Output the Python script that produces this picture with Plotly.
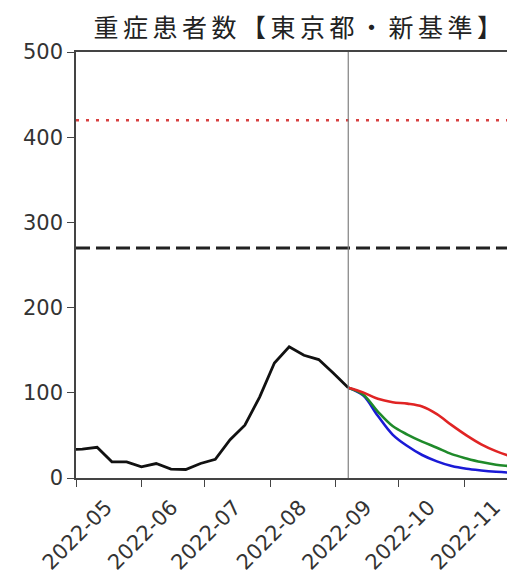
import plotly.graph_objects as go

# Observed weekly severe cases (Tokyo, new criteria)
obs_dates = ["2022-04-27", "2022-05-04", "2022-05-11", "2022-05-18", "2022-05-25",
             "2022-06-01", "2022-06-08", "2022-06-15", "2022-06-22", "2022-06-29",
             "2022-07-06", "2022-07-13", "2022-07-20", "2022-07-27", "2022-08-03",
             "2022-08-10", "2022-08-17", "2022-08-24", "2022-08-31", "2022-09-07"]
obs_values = [33, 34, 36, 19, 19, 13, 17, 10.5, 10, 17,
              22, 45, 62, 95, 135, 154, 144, 139, 123, 106]

# Projections from 2022-09-07
proj_dates = ["2022-09-07", "2022-09-14", "2022-09-21", "2022-09-28", "2022-10-05",
              "2022-10-12", "2022-10-19", "2022-10-26", "2022-11-02", "2022-11-09",
              "2022-11-16", "2022-11-23", "2022-11-30"]
proj_red = [106, 100.5, 93, 89, 87.3, 84, 75, 62, 50, 39.5, 31.5, 25.5, 21]
proj_green = [106, 98, 78, 61, 51, 42.7, 35.5, 28, 23, 18.7, 15.5, 13.8, 12]
proj_blue = [106, 97, 73, 51, 37.5, 27, 19.5, 14, 10.8, 8.8, 7.3, 6.3, 5.8]

ref_dashed = 270
ref_dotted = 420
split_date = "2022-09-07"
x_range = ["2022-05-01", "2022-11-25"]
tick_vals = ["2022-05-01", "2022-06-01", "2022-07-01", "2022-08-01",
             "2022-09-01", "2022-10-01", "2022-11-01"]
tick_text = ["2022-05", "2022-06", "2022-07", "2022-08", "2022-09", "2022-10", "2022-11"]
y_ticks = [0, 100, 200, 300, 400, 500]
title_text = "重症患者数【東京都・新基準】"

fig = go.Figure()

fig.add_trace(go.Scatter(x=proj_dates, y=proj_blue, mode="lines",
                         line=dict(color="#1a1ad6", width=2.6, shape="spline")))
fig.add_trace(go.Scatter(x=proj_dates, y=proj_green, mode="lines",
                         line=dict(color="#1f8a2a", width=2.6, shape="spline")))
fig.add_trace(go.Scatter(x=proj_dates, y=proj_red, mode="lines",
                         line=dict(color="#e02424", width=2.6, shape="spline")))
fig.add_trace(go.Scatter(x=obs_dates, y=obs_values, mode="lines",
                         line=dict(color="#111111", width=2.8)))

fig.add_hline(y=ref_dashed, line=dict(color="#222222", width=3, dash="14px,6px"))
fig.add_hline(y=ref_dotted, line=dict(color="#d84040", width=2.5, dash="3px,7px"))
fig.add_vline(x=split_date, line=dict(color="#808080", width=1.2))

fig.update_layout(
    width=507, height=577,
    margin=dict(l=68, r=0, t=44, b=107),
    paper_bgcolor="white", plot_bgcolor="white",
    showlegend=False,
    title=dict(text='<span style="letter-spacing:4.5px">' + title_text + '</span>',
               x=0.576, xanchor="center", y=0.965, yanchor="middle",
               font=dict(family="Noto Sans CJK JP", size=25, color="#222222")),
    font=dict(family="DejaVu Sans", size=21, color="#333333"),
)
fig.update_xaxes(range=x_range, tickvals=tick_vals, ticktext=tick_text,
                 tickangle=-45, ticks="outside", ticklen=7, tickcolor="#444444",
                 showline=True, linecolor="#444444", linewidth=1.5, mirror=True,
                 showgrid=False, zeroline=False, ticklabelshift=30)
fig.update_yaxes(range=[0, 500], tickvals=y_ticks,
                 ticks="outside", ticklen=7, tickcolor="#444444",
                 showline=True, linecolor="#444444", linewidth=1.5,
                 showgrid=False, zeroline=False)

fig.write_html("out.html")
